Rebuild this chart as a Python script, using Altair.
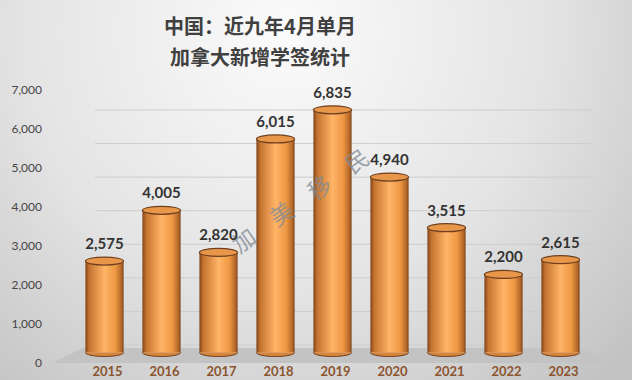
import altair as alt
import pandas as pd

years = ["2015", "2016", "2017", "2018", "2019", "2020", "2021", "2022", "2023"]
values = [2575, 4005, 2820, 6015, 6835, 4940, 3515, 2200, 2615]
y_ticks = [0, 1000, 2000, 3000, 4000, 5000, 6000, 7000]
title_lines = ["中国：近九年4月单月", "加拿大新增学签统计"]
watermark = "加　美　移　民"

W, H = 513, 273
PL, PT = 76, 90

df = pd.DataFrame({"year": years, "value": values, "zero": [0] * len(years)})
ticks_df = pd.DataFrame({"t": y_ticks})
one = pd.DataFrame({"a": [1]})

xscale = alt.Scale(domain=years, paddingInner=0.33, paddingOuter=0.165)
yscale = alt.Scale(domain=[-296, 7394], nice=False, zero=False)

bg = alt.Chart(one).mark_rect(
    fill={"gradient": "radial", "x1": 0.45, "y1": 0.25, "r1": 0, "x2": 0.45, "y2": 0.25, "r2": 0.75,
          "stops": [{"offset": 0, "color": "#fbfbfb"},
                    {"offset": 0.55, "color": "#e4e4e4"},
                    {"offset": 1, "color": "#c2c2c2"}]},
    clip=False,
).encode(x=alt.value(-PL), x2=alt.value(632 - PL), y=alt.value(-PT), y2=alt.value(380 - PT))

grid = alt.Chart(ticks_df).transform_calculate(
    gy="211 + datum.t * 0.9457"
).mark_rule(color="#cdcdcd", strokeWidth=1).encode(
    y=alt.Y("gy:Q", scale=yscale, axis=None),
    x=alt.value(19), x2=alt.value(516),
)

floor = alt.Chart(one).mark_point(
    shape="M -1 0.027 L 1 0.027 L 0.884 -0.027 L -0.891 -0.027 Z",
    size=313600, filled=True, fill="#c3c3c3", opacity=1, strokeWidth=0,
).encode(x=alt.value(256.5), y=alt.value(265.5))

ylabels = alt.Chart(ticks_df).transform_calculate(
    ay="-296 + datum.t * 7690 / 7000"
).mark_text(
    font="Lato", fontSize=12, color="#454545", align="right", baseline="middle",
).encode(
    y=alt.Y("ay:Q", scale=yscale, axis=None),
    x=alt.value(-34),
    text=alt.Text("t:Q", format=","),
)

bar_grad = {"gradient": "linear", "x1": 0, "y1": 0, "x2": 1, "y2": 0,
            "stops": [{"offset": 0, "color": "#7e4418"},
                      {"offset": 0.1, "color": "#c57330"},
                      {"offset": 0.5, "color": "#ffb466"},
                      {"offset": 0.78, "color": "#ee9844"},
                      {"offset": 0.94, "color": "#b5682a"},
                      {"offset": 1, "color": "#7a4318"}]}

X = alt.X("year:N", scale=xscale,
          axis=alt.Axis(domain=False, ticks=False, grid=False, labelAngle=0,
                        labelFont="Lato", labelFontSize=13, labelFontWeight="bold",
                        labelColor="#8B5530", labelPadding=8, labelBaseline="middle",
                        labelOffset=3, title=None, zindex=1))

base = alt.Chart(df)
bars = base.mark_bar(fill=bar_grad, strokeWidth=0).encode(
    x=X,
    y=alt.Y("value:Q", scale=yscale, axis=None),
)
bottoms = base.mark_point(
    shape="M -1 0 A 1 0.21 0 0 0 1 0", size=1459, filled=True, fill="#d8853a",
    stroke="#6e4020", strokeWidth=1, opacity=1,
).encode(x=X, y=alt.Y("zero:Q", scale=yscale, axis=None))
tops = base.mark_point(
    shape="M -1 0 A 1 0.21 0 1 0 1 0 A 1 0.21 0 1 0 -1 0 Z", size=1459, filled=True,
    fill="#e8964a", stroke="#6e4020", strokeWidth=1.2, opacity=1,
).encode(x=X, y=alt.Y("value:Q", scale=yscale, axis=None))
labels = base.mark_text(
    font="Lato", fontSize=15, fontWeight="bold", color="#333333", dy=-17, baseline="middle",
).encode(x=X, y=alt.Y("value:Q", scale=yscale, axis=None),
         text=alt.Text("value:Q", format=","))

wm = alt.Chart(pd.DataFrame({"w": [watermark]})).mark_text(
    font="Noto Sans CJK SC", fontSize=23, fontWeight="normal",
    color="#7f8a96", opacity=0.75, angle=325, align="center", baseline="middle",
).encode(text="w:N", x=alt.value(225.5), y=alt.value(112))

t1 = alt.Chart(pd.DataFrame({"line": [title_lines[0]]})).mark_text(
    font="Noto Sans CJK SC", fontSize=20, fontWeight="bold", color="#404040",
    align="center", baseline="middle",
).encode(text="line:N", x=alt.value(184), y=alt.value(28 - PT))
t2 = alt.Chart(pd.DataFrame({"line": [title_lines[1]]})).mark_text(
    font="Noto Sans CJK SC", fontSize=20, fontWeight="bold", color="#404040",
    align="center", baseline="middle",
).encode(text="line:N", x=alt.value(184), y=alt.value(59 - PT))

chart = alt.layer(bg, grid, floor, ylabels, bars, bottoms, tops, wm, labels, t1, t2).properties(
    width=W, height=H,
    autosize=alt.AutoSizeParams(type="none"),
    padding={"left": PL, "top": PT, "right": 632 - PL - W, "bottom": 380 - PT - H},
    background="#d8d8d8",
).configure_view(strokeWidth=0)

chart.save("out.html", embed_options={"renderer": "svg", "actions": False})
